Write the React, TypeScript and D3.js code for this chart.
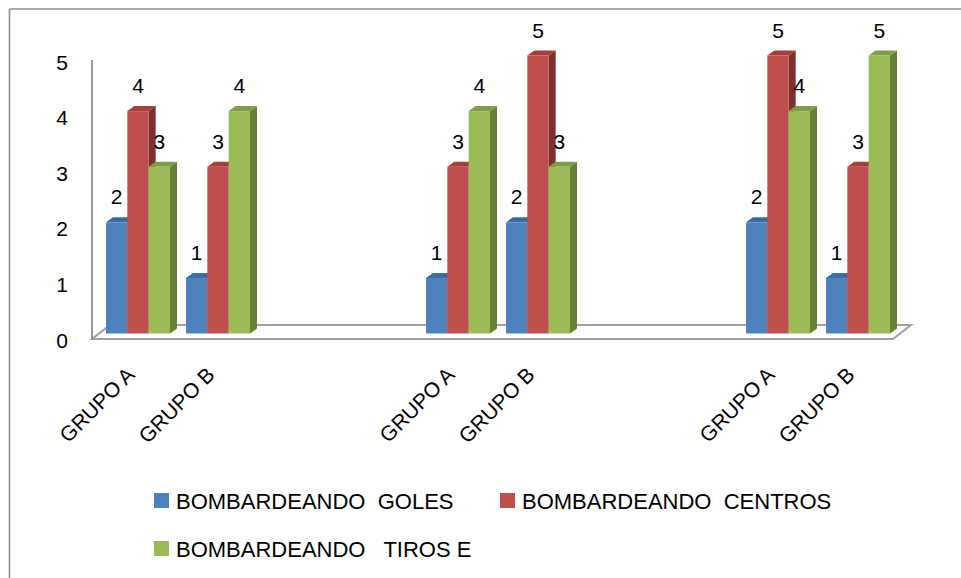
import React from "react";
import * as d3 from "d3";

const categories = ["GRUPO A", "GRUPO B", "", "", "GRUPO A", "GRUPO B", "", "", "GRUPO A", "GRUPO B"];
const goles: (number | null)[] = [2, 1, null, null, 1, 2, null, null, 2, 1];
const centros: (number | null)[] = [4, 3, null, null, 3, 5, null, null, 5, 3];
const tiros: (number | null)[] = [3, 4, null, null, 4, 3, null, null, 4, 5];
const seriesNames = ["BOMBARDEANDO  GOLES", "BOMBARDEANDO  CENTROS", "BOMBARDEANDO   TIROS E"];
const yTicks = [0, 1, 2, 3, 4, 5];

const W = 961;
const H = 578;
const FONT = "'Liberation Sans', Arial, sans-serif";

const palettes = [
  { front: "#4F81BD", top: "#3E6B9E", side: "#385E8C" },
  { front: "#C0504D", top: "#A43F3C", side: "#7E2F2D" },
  { front: "#9BBB59", top: "#7F9C48", side: "#687F38" },
];

export default function App() {
  const series = [goles, centros, tiros];
  const x0 = 92;
  const x1 = 892;
  const floorY = 339;
  const floorDx = 18;
  const floorDy = -14;
  const barShiftX = 6;
  const barShiftY = -4.5;
  const depthX = 7;
  const depthY = -5;

  const xBand = d3
    .scaleBand<number>()
    .domain(categories.map((_, i) => i))
    .range([x0, x1])
    .paddingInner(0)
    .paddingOuter(0);
  const step = xBand.step();
  const clusterW = step * 0.8;
  const xSeries = d3
    .scaleBand<number>()
    .domain([0, 1, 2])
    .range([0, clusterW])
    .padding(0);
  const y = d3.scaleLinear().domain([0, 5]).range([338, 60]);

  const bars: React.ReactNode[] = [];
  const labels: React.ReactNode[] = [];
  categories.forEach((_, ci) => {
    const cx = (xBand(ci) as number) + (step - clusterW) / 2 + barShiftX;
    series.forEach((s, si) => {
      const v = s[ci];
      if (v == null) return;
      const bx = cx + (xSeries(si) as number);
      const bw = xSeries.bandwidth();
      const ty = y(v) + barShiftY;
      const by = y(0) + barShiftY;
      const p = palettes[si];
      bars.push(
        <g key={`b-${ci}-${si}`}>
          <path
            d={`M${bx + bw},${ty} L${bx + bw + depthX},${ty + depthY} L${bx + bw + depthX},${by + depthY} L${bx + bw},${by} Z`}
            fill={p.side}
          />
          <path
            d={`M${bx},${ty} L${bx + depthX},${ty + depthY} L${bx + bw + depthX},${ty + depthY} L${bx + bw},${ty} Z`}
            fill={p.top}
          />
          <rect x={bx} y={ty} width={bw} height={by - ty} fill={p.front} />
        </g>
      );
      labels.push(
        <text
          key={`l-${ci}-${si}`}
          x={bx + bw / 2}
          y={ty - 18}
          textAnchor="middle"
          fontSize={21}
          fontFamily={FONT}
          fill="#000"
        >
          {v}
        </text>
      );
    });
  });

  const legendItems = [
    { sq: [154, 493], tx: [176, 509] },
    { sq: [500, 493], tx: [522, 509] },
    { sq: [154, 541], tx: [176, 557] },
  ];

  return (
    <svg
      width={W}
      height={H}
      style={{ position: "absolute", left: 0, top: 0, background: "#fff" }}
    >
      <rect x={0} y={0} width={W} height={H} fill="#fff" />
      {/* outer chart border */}
      <line x1={9.5} y1={9} x2={W} y2={9} stroke="#8E8E8E" strokeWidth={1.6} />
      <line x1={9.5} y1={9} x2={9.5} y2={H} stroke="#8E8E8E" strokeWidth={1.6} />

      {/* floor */}
      <path
        d={`M${x0},${floorY} L${x1 + 1},${floorY} L${x1 + 1 + floorDx},${floorY + floorDy} L${x0 + floorDx},${floorY + floorDy} Z`}
        fill="#fff"
        stroke="#A0A0A0"
        strokeWidth={2}
      />
      {/* y axis line */}
      <line x1={x0} y1={y(5)} x2={x0} y2={floorY} stroke="#8C8C8C" strokeWidth={1.8} />

      {yTicks.map((t) => (
        <text
          key={`yt-${t}`}
          x={68}
          y={y(t) + 2}
          textAnchor="end"
          dominantBaseline="central"
          fontSize={21}
          fontFamily={FONT}
          fill="#000"
        >
          {t}
        </text>
      ))}

      {bars}
      {labels}

      {categories.map((c, i) => {
        if (!c) return null;
        const ax = (xBand(i) as number) + step / 2 + barShiftX - 2;
        const ay = 376;
        return (
          <text
            key={`c-${i}`}
            transform={`translate(${ax},${ay}) rotate(-45)`}
            textAnchor="end"
            fontSize={21}
            fontFamily={FONT}
            fill="#000"
          >
            {c}
          </text>
        );
      })}

      {legendItems.map((it, i) => (
        <g key={`lg-${i}`}>
          <rect x={it.sq[0]} y={it.sq[1]} width={15} height={15} fill={palettes[i].front} />
          <text
            x={it.tx[0]}
            y={it.tx[1]}
            fontSize={22}
            fontFamily={FONT}
            fill="#000"
            style={{ whiteSpace: "pre" }}
            xmlSpace="preserve"
          >
            {seriesNames[i]}
          </text>
        </g>
      ))}
    </svg>
  );
}
